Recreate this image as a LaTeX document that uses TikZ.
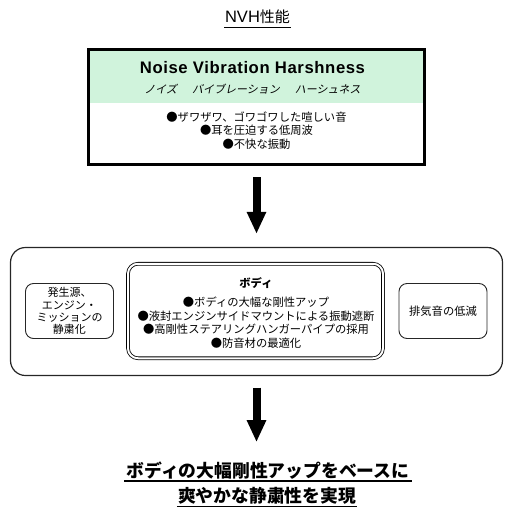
\documentclass[tikz,border=0pt]{standalone}
\usepackage{fontspec}
\setmainfont{Liberation Sans}
\newfontfamily\jp{Noto Sans CJK JP}
\newfontfamily\jpslant[FakeSlant=0.2]{Noto Sans CJK JP}
\newfontfamily\nvhfont[LetterSpace=3.5]{Liberation Sans}
\usetikzlibrary{arrows.meta,calc}
\definecolor{nvhgreen}{RGB}{208,243,220}
\begin{document}
\begin{tikzpicture}[x=1pt,y=-1pt,
  ulline/.style={line width=1.2pt},
  bigarrow/.style={line width=8pt,-{Triangle[width=18pt,length=22pt]}},
  roundbox/.style={draw=black!85,line width=0.9pt,rounded corners=8pt,align=center,inner sep=0pt,
    minimum width=88pt,minimum height=55pt},
  jptext/.style={font={\jp\fontsize{11.3pt}{13.5pt}\selectfont}}]
\useasboundingbox (0,0) rectangle (514,517);

% title
\node[anchor=base, inner xsep=1pt, inner ysep=0pt,
  font={\fontsize{16.5pt}{18pt}\selectfont}] (nvhtitle) at (257.5,22.7)
  {NVH{\jp\fontsize{15pt}{18pt}\selectfont 性能}};
\coordinate (ulw) at ($(nvhtitle.base west)+(0,3.8)$);
\coordinate (ule) at ($(nvhtitle.base east)+(0,5.3)$);
\fill[black] (ulw) rectangle (ule);

% top box
\node[minimum width=336pt, minimum height=115pt, inner sep=0pt] (nvh) at (256.5,107) {};
\fill[nvhgreen] (nvh.north west) rectangle ([yshift=-53.5pt]nvh.north east);
\draw[line width=3pt] (nvh.north west) rectangle (nvh.south east);
\node[anchor=base, inner sep=0pt] (eng) at (252.5,73)
  {\nvhfont\bfseries\fontsize{16.7pt}{20pt}\selectfont Noise Vibration Harshness};
\node[anchor=base, inner sep=0pt] (kana) at (252.5,93)
  {\jpslant\fontsize{11pt}{13pt}\selectfont ノイズ\hspace{15pt}バイブレーション\hspace{15pt}ハーシュネス};
\node[align=center, inner sep=0pt, jptext] (nvhlist) at (256.5,130.5)
  {●ザワザワ、ゴワゴワした喧しい音\\●耳を圧迫する低周波\\●不快な振動};

% system box
\node[draw=black!85, line width=1.2pt, rounded corners=15pt, minimum width=492pt,
  minimum height=128pt, inner sep=0pt] (sys) at (256.5,311.5) {};

\node[roundbox, font={\jp\fontsize{11pt}{12.3pt}\selectfont}] (src) at (69.5,311)
  {発生源、\\エンジン・\\ミッションの\\静粛化};
\node[draw, double, double distance=2pt, line width=0.8pt, rounded corners=10pt,
  minimum width=255pt, minimum height=94.5pt, inner sep=0pt] (body) at (255.5,311) {};
\node[align=center, inner sep=0pt, jptext] (bodytxt) at (256,313)
  {{\bfseries ボディ}\\[5.5pt]●ボディの大幅な剛性アップ\\●液封エンジンサイドマウントによる振動遮断\\●高剛性ステアリングハンガーパイプの採用\\●防音材の最適化};
\node[roundbox, jptext] (exh) at (443,311) {排気音の低減};

% result
\node[anchor=base, inner xsep=2pt, inner ysep=0pt,
  font={\jp\bfseries\fontsize{17.8pt}{20pt}\selectfont}] (res1) at (268,477)
  {ボディの大幅剛性アップをベースに};
\node[anchor=base, inner xsep=1pt, inner ysep=0pt,
  font={\jp\bfseries\fontsize{17.8pt}{20pt}\selectfont}] (res2) at (267,502.5)
  {爽やかな静粛性を実現};
\draw[ulline] ([yshift=-4pt]res1.base west) -- ([yshift=-4pt]res1.base east);
\draw[ulline] ([yshift=-4pt]res2.base west) -- ([yshift=-4pt]res2.base east);

% arrows
\draw[bigarrow] ([yshift=-12.5pt]nvh.south) -- ([yshift=13pt]sys.north);
\draw[bigarrow] ([yshift=-11.5pt]sys.south) -- ($(sys.south |- res1.north)+(0,-19)$);
\end{tikzpicture}
\end{document}
